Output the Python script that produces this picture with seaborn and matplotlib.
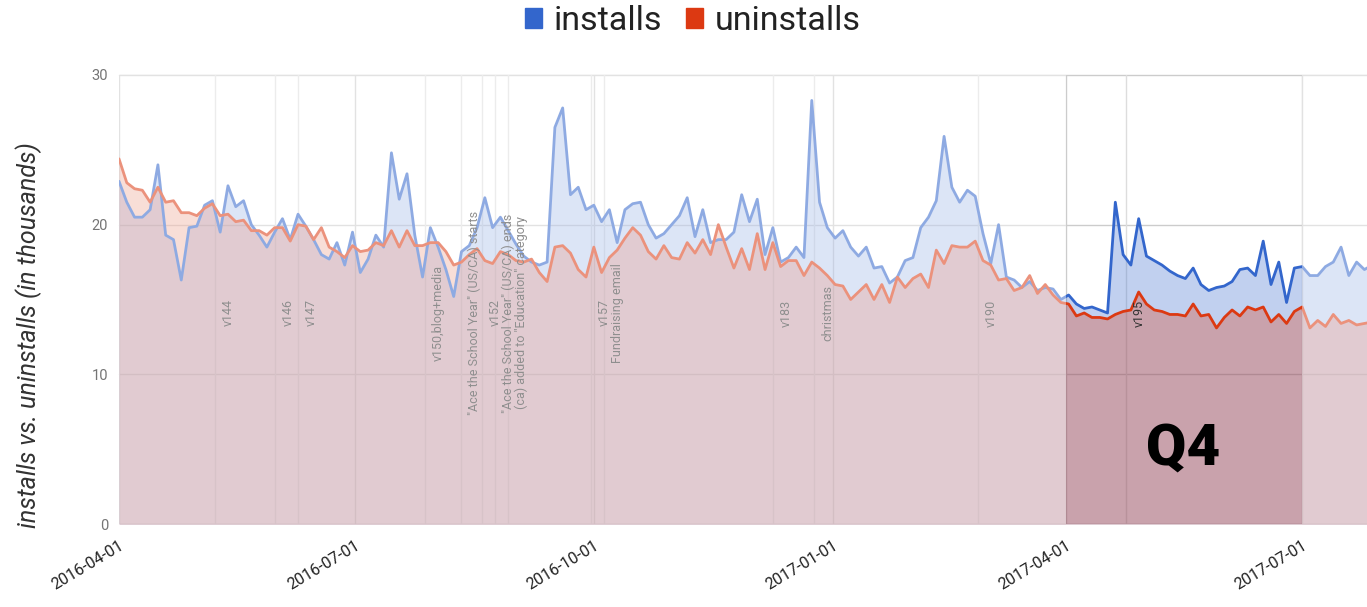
# installs vs uninstalls, daily-ish, Q4 highlighted
import pandas as pd
import matplotlib.pyplot as plt
import seaborn as sns
from matplotlib.patches import Patch

# ------------------------------
# DATA (thousands, every 3 days from 2016-04-01)
# ------------------------------
start = "2016-04-01"

installs = [
    22.9, 21.5, 20.5, 20.5, 21.0, 24.0, 19.3, 19.0, 16.3, 19.8,
    19.9, 21.3, 21.6, 19.5, 22.6, 21.2, 21.6, 20.0, 19.3, 18.5,
    19.5, 20.4, 19.0, 20.7, 19.9, 19.0, 18.0, 17.7, 18.8, 17.3,
    19.5, 16.8, 17.7, 19.3, 18.5, 24.8, 21.7, 23.4, 19.3, 16.5,
    19.8, 18.5, 17.0, 15.2, 18.2, 18.6, 19.8, 21.8, 19.8, 20.5,
    19.6, 18.7, 17.9, 17.5, 17.3, 17.5, 26.5, 27.8, 22.0, 22.5,
    21.0, 21.3, 20.2, 21.0, 18.8, 21.0, 21.4, 21.5, 20.0, 19.1,
    19.4, 20.0, 20.6, 21.8, 19.2, 21.0, 18.8, 19.0, 19.0, 19.5,
    22.0, 20.2, 21.7, 18.0, 19.8, 17.5, 17.8, 18.5, 17.8, 28.3,
    21.5, 19.8, 19.1, 19.6, 18.5, 17.9, 18.5, 17.1, 17.2, 16.1,
    16.5, 17.6, 17.8, 19.8, 20.5, 21.6, 25.9, 22.5, 21.5, 22.3,
    21.9, 19.4, 17.4, 20.0, 16.5, 16.3, 15.8, 16.2, 15.6, 15.8,
    15.7, 15.0, 15.3, 14.7, 14.4, 14.5, 14.3, 14.1, 21.5, 18.0,
    17.3, 20.4, 17.9, 17.6, 17.3, 16.9, 16.6, 16.4, 17.1, 16.0,
    15.6, 15.8, 15.9, 16.2, 17.0, 17.1, 16.6, 18.9, 16.0, 17.5,
    14.8, 17.1, 17.2, 16.6, 16.6, 17.2, 17.5, 18.5, 16.6, 17.5,
    17.0, 17.3,
]

uninstalls = [
    24.4, 22.8, 22.4, 22.3, 21.5, 22.5, 21.5, 21.6, 20.8, 20.8,
    20.6, 21.1, 21.4, 20.6, 20.7, 20.2, 20.3, 19.6, 19.6, 19.3,
    19.8, 19.8, 18.9, 20.0, 19.9, 19.0, 19.8, 18.5, 18.2, 17.8,
    18.6, 18.2, 18.3, 18.8, 18.6, 19.6, 18.5, 19.6, 18.6, 18.6,
    18.8, 18.8, 18.2, 17.3, 17.5, 18.0, 18.4, 17.6, 17.4, 18.2,
    18.0, 17.6, 17.5, 17.7, 16.8, 16.2, 18.5, 18.6, 18.1, 17.0,
    16.5, 18.5, 16.8, 17.8, 18.3, 19.1, 19.8, 19.3, 18.2, 17.7,
    18.6, 17.8, 17.7, 18.8, 18.1, 19.0, 18.0, 20.0, 18.5, 17.1,
    18.4, 17.0, 19.4, 17.0, 18.8, 17.2, 17.6, 17.6, 16.6, 17.5,
    17.1, 16.6, 16.0, 15.9, 15.0, 15.5, 16.0, 15.0, 16.0, 14.8,
    16.5, 15.8, 16.4, 16.7, 15.8, 18.3, 17.4, 18.6, 18.5, 18.5,
    18.9, 17.6, 17.3, 16.3, 16.4, 15.6, 15.8, 16.6, 15.4, 16.0,
    15.3, 14.8, 14.7, 13.9, 14.1, 13.8, 13.8, 13.7, 14.0, 14.2,
    14.3, 15.5, 14.7, 14.3, 14.2, 14.0, 14.0, 13.9, 14.7, 13.9,
    14.0, 13.1, 13.8, 14.3, 13.9, 14.5, 14.3, 14.5, 13.5, 14.0,
    13.4, 14.2, 14.5, 13.1, 13.6, 13.2, 14.0, 13.4, 13.6, 13.3,
    13.4, 13.5,
]

note_dates = [
    "2016-05-08", "2016-05-31", "2016-06-09", "2016-07-28", "2016-08-11",
    "2016-08-19", "2016-08-24", "2016-08-29", "2016-09-30", "2016-10-05",
    "2016-12-09", "2016-12-25", "2017-02-26", "2017-04-24",
]
note_labels = [
    "v144", "v146", "v147", "v150,blog+media",
    '"Ace the School Year" (US/CA) starts', "v152",
    '"Ace the School Year" (US/CA) ends', '(ca) added to "Education" category',
    "v157", "Fundraising email", "v183", "christmas", "v190", "v195",
]

tick_dates = ["2016-04-01", "2016-07-01", "2016-10-01",
              "2017-01-01", "2017-04-01", "2017-07-01"]
y_ticks = [0, 10, 20, 30]
q4_start, q4_end = "2017-04-01", "2017-07-01"

dates = pd.date_range(start, periods=len(installs), freq="3D")
df = pd.DataFrame({"date": dates, "installs": installs, "uninstalls": uninstalls})
long = df.melt("date", var_name="series", value_name="value")

# ------------------------------
# STYLE
# ------------------------------
sns.set_theme(style="white")
plt.rcParams["font.family"] = ["Roboto", "DejaVu Sans"]

BLUE, RED = "#3366cc", "#dc3912"

fig = plt.figure(figsize=(13.67, 6.07), dpi=100)
ax = fig.add_axes([119 / 1367, 83 / 607, 1248 / 1367, 449 / 607])

x0 = pd.Timestamp(start)
x1 = x0 + pd.Timedelta(days=481)

# grid + annotation stems
for v in y_ticks[1:]:
    ax.axhline(v, color="#cccccc", lw=1, zorder=0, clip_on=False)
ax.axhline(0, color="#999999", lw=1, zorder=0)
for d in tick_dates:
    ax.axvline(pd.Timestamp(d), color="#cccccc", lw=1, zorder=0)
for d in note_dates:
    ax.axvline(pd.Timestamp(d), color="#dddddd", lw=1, zorder=0)

# areas + lines
ax.fill_between(df["date"], 0, df["installs"], color=BLUE, alpha=0.3, lw=0, zorder=1)
ax.fill_between(df["date"], 0, df["uninstalls"], color=RED, alpha=0.3, lw=0, zorder=1)
sns.lineplot(data=long, x="date", y="value", hue="series", palette=[BLUE, RED],
             lw=2, legend=False, ax=ax, zorder=2)

for d, lab in zip(note_dates, note_labels):
    ax.annotate(lab, (pd.Timestamp(d), 14.1), xytext=(9.5, 0), textcoords="offset points",
                rotation=90, ha="center", va="center", fontsize=9,
                color="#333333", zorder=3)

# fade everything outside Q4
ax.axvspan(x0, pd.Timestamp(q4_start), color="white", alpha=0.45, lw=0, zorder=4)
ax.axvspan(pd.Timestamp(q4_end), x1, color="white", alpha=0.45, lw=0, zorder=4)

ax.text(pd.Timestamp("2017-05-16"), 5.0, "Q4", fontsize=42, fontweight="black",
        ha="center", va="center", color="black", zorder=5)

# ------------------------------
# AXES
# ------------------------------
ax.set_xlim(x0, x1)
ax.set_ylim(0, 30)
for s in ax.spines.values():
    s.set_visible(False)

ax.set_yticks(y_ticks)
ax.set_yticklabels([str(v) for v in y_ticks], fontsize=10.5, color="#757575")
ax.set_xticks([pd.Timestamp(d) for d in tick_dates])
ax.set_xticklabels(tick_dates, fontsize=11.5, color="#222222", rotation=31,
                   ha="right", rotation_mode="anchor")
ax.tick_params(axis="y", length=0, pad=8)
ax.tick_params(axis="x", length=0, pad=10)
ax.set_xlabel("")
ax.set_ylabel("installs vs. uninstalls (in thousands)", fontsize=18,
              style="italic", color="#333333")
ax.yaxis.set_label_coords(-0.062, 0.42)

fig.legend(handles=[Patch(color=BLUE), Patch(color=RED)],
           labels=["installs", "uninstalls"], loc="center",
           bbox_to_anchor=(693 / 1367, 1 - 21 / 607), ncol=2, frameon=False,
           fontsize=24.5, handlelength=0.5, handleheight=0.5,
           handletextpad=0.35, columnspacing=0.7, labelcolor="#222222")

fig.savefig("out.png", dpi=100)
